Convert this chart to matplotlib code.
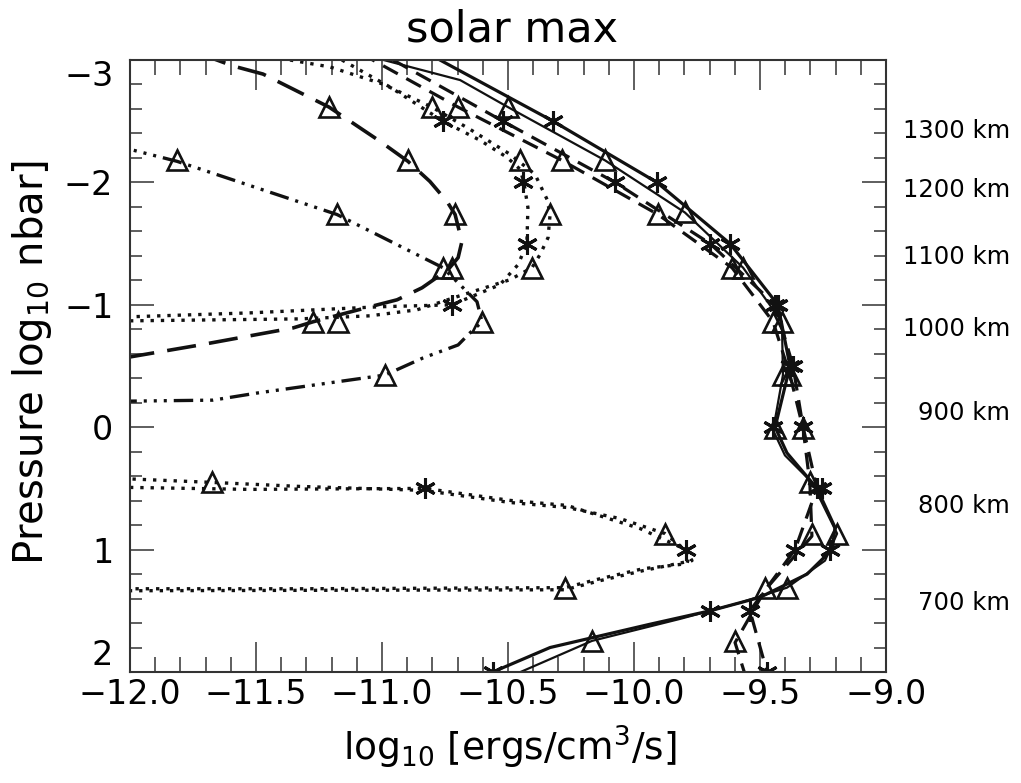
import matplotlib
matplotlib.use("Agg")
import matplotlib.pyplot as plt
from matplotlib.ticker import MultipleLocator
import matplotlib.transforms as mtransforms

plt.rcParams['font.family'] = ['DejaVu Sans']
plt.rcParams['lines.scale_dashes'] = False
plt.rcParams['mathtext.fontset'] = 'dejavusans'

# ---------------- data (log10 rate vs log10 pressure) ----------------
# solid, thick
s1_x = [-10.770, -10.321, -9.909, -9.619, -9.429, -9.381, -9.440, -9.393, -9.274,
        -9.202, -9.214, -9.313, -9.500, -9.698, -9.937, -10.333, -10.560]
s1_y = [-3.0, -2.5, -2.0, -1.5, -1.0, -0.5, 0.0, 0.21, 0.5,
        0.82, 1.0, 1.2, 1.39, 1.5, 1.61, 1.8, 2.0]
# solid, thin
s2_x = [-11.099, -10.690, -10.500, -10.115, -9.798, -9.567, -9.413, -9.409, -9.448,
        -9.401, -9.294, -9.194, -9.242, -9.393, -9.579, -9.817, -10.167, -10.651]
s2_y = [-3.057, -2.836, -2.615, -2.18, -1.754, -1.303, -0.861, -0.426, 0.025,
        0.23, 0.451, 0.869, 1.09, 1.311, 1.434, 1.566, 1.746, 2.18]
# dashed 1
d1_x = [-10.956, -10.520, -10.075, -9.698, -9.440, -9.369, -9.329, -9.274,
        -9.361, -9.540, -9.472]
d1_y = [-3.0, -2.5, -2.0, -1.5, -1.0, -0.5, 0.0, 0.5, 1.0, 1.5, 2.0]
# dashed 2
d2_x = [-11.087, -10.698, -10.286, -9.905, -9.611, -9.448, -9.381, -9.329,
        -9.302, -9.294, -9.480, -9.599, -9.532]
d2_y = [-3.057, -2.615, -2.18, -1.738, -1.303, -0.861, -0.426, 0.01,
        0.46, 0.89, 1.33, 1.76, 2.2]
# dotted 1 (upper)
o1_x = [-11.159, -10.968, -10.758, -10.611, -10.504, -10.452, -10.437, -10.421,
        -10.425, -10.460, -10.532, -10.722, -11.008, -11.524, -12.0, -16.9]
o1_y = [-3.0, -2.779, -2.5, -2.344, -2.205, -2.107, -2.0, -1.795,
        -1.5, -1.328, -1.164, -1.0, -0.984, -0.934, -0.902, -0.5]
# dotted 2 (upper)
o2_x = [-11.365, -11.206, -10.996, -10.802, -10.651, -10.492, -10.393, -10.345,
        -10.333, -10.341, -10.373, -10.405, -10.492, -10.679, -10.861, -11.048,
        -11.325, -12.0, -31.0]
o2_y = [-3.0, -2.943, -2.803, -2.615, -2.434, -2.23, -2.066, -1.861,
        -1.738, -1.549, -1.41, -1.303, -1.205, -1.082, -0.959, -0.91,
        -0.885, -0.869, -0.42]
# long dashes
l_x = [-11.730, -11.591, -11.472, -11.210, -11.008, -10.897, -10.810, -10.742,
       -10.710, -10.683, -10.698, -10.738, -10.841, -10.940, -11.048, -11.274,
       -11.353, -11.722, -12.0, -12.4]
l_y = [-3.057, -2.951, -2.885, -2.615, -2.336, -2.172, -2.008, -1.844,
       -1.738, -1.516, -1.385, -1.287, -1.139, -1.041, -0.984, -0.861,
       -0.811, -0.672, -0.574, -0.42]
# dash-dot-dot-dot
t_x = [-12.65, -12.0, -11.813, -11.179, -10.758, -10.623, -10.603, -10.651,
       -10.698, -10.837, -10.988, -11.496, -11.671, -12.0, -40.0]
t_y = [-2.615, -2.27, -2.172, -1.738, -1.303, -1.025, -0.861, -0.77,
       -0.672, -0.566, -0.426, -0.279, -0.221, -0.213, 0.02]
# dotted (lower) 1
lo1_x = [-16.6, -11.675, -11.325, -10.837, -10.492, -10.266, -10.056, -9.877,
         -9.778, -9.790, -9.964, -10.135, -10.274, -11.325, -12.0, -40.0]
lo1_y = [0.02, 0.451, 0.484, 0.516, 0.615, 0.656, 0.746, 0.869,
         1.033, 1.115, 1.156, 1.238, 1.311, 1.32, 1.32, 1.76]
# dotted (lower) 2
lo2_x = [-12.0, -11.524, -10.829, -10.492, -10.266, -9.976, -9.794, -9.770,
         -9.964, -10.135, -10.274, -12.0]
lo2_y = [0.492, 0.508, 0.5, 0.598, 0.639, 0.828, 1.0, 1.09,
         1.172, 1.254, 1.328, 1.336]

# asterisk markers
ast_x = [-10.758, -10.520, -10.321, -10.440, -10.075, -9.909, -10.425, -9.698, -9.619,
         -10.722, -9.440, -9.429, -9.381, -9.369, -9.448, -9.329, -10.829, -9.274,
         -9.254, -9.794, -9.361, -9.222, -9.698, -9.540, -10.560, -9.472]
ast_y = [-2.5, -2.5, -2.5, -2.0, -2.0, -2.0, -1.5, -1.5, -1.5,
         -1.0, -1.0, -1.0, -0.5, -0.5, 0.0, 0.0, 0.5, 0.5,
         0.5, 1.0, 1.0, 1.0, 1.5, 1.5, 2.0, 2.0]
# triangle markers
tri_x = [-11.210, -10.802, -10.698, -10.500,
         -11.813, -10.897, -10.452, -10.286, -10.115,
         -11.179, -10.710, -10.333, -9.905, -9.798,
         -10.758, -10.722, -10.405, -9.611, -9.567,
         -11.274, -11.175, -10.603, -9.448, -9.413,
         -10.988, -9.409, -9.381,
         -9.440, -9.329,
         -11.675, -9.302,
         -9.877, -9.294, -9.194,
         -10.274, -9.480, -9.393,
         -10.167, -9.599]
tri_y = [-2.615, -2.615, -2.615, -2.615,
         -2.18, -2.18, -2.18, -2.18, -2.18,
         -1.74, -1.74, -1.74, -1.74, -1.76,
         -1.30, -1.30, -1.30, -1.30, -1.30,
         -0.86, -0.86, -0.86, -0.86, -0.86,
         -0.425, -0.425, -0.425,
         0.01, 0.01,
         0.45, 0.45,
         0.87, 0.87, 0.87,
         1.31, 1.31, 1.31,
         1.745, 1.745]

# altitude labels on the right
alt_labels = ['1300 km', '1200 km', '1100 km', '1000 km', '900 km', '800 km', '700 km']
alt_pos = [-2.42, -1.94, -1.39, -0.80, -0.115, 0.64, 1.44]

x_ticks = [-12.0, -11.5, -11.0, -10.5, -10.0, -9.5, -9.0]
y_ticks = [-3, -2, -1, 0, 1, 2]

# ---------------- figure ----------------
fig = plt.figure(figsize=(10.21, 7.83), dpi=100)
ax = fig.add_axes([130/1021, 1-672/783, 756/1021, 612/783])

k = '#111111'
dot = (0, (2.4, 5.0))
dash = (0, (12, 7))
ldash = (0, (21, 9.5))
dd3 = (0, (14, 5, 2.2, 5, 2.2, 5, 2.2, 5))

ax.plot(s1_x, s1_y, color=k, lw=2.3, ls='-')
ax.plot(s2_x, s2_y, color=k, lw=1.6, ls='-')
ax.plot(d1_x, d1_y, color=k, lw=2.3, ls=dash)
ax.plot(d2_x, d2_y, color=k, lw=2.3, ls=dash)
ax.plot(o1_x, o1_y, color=k, lw=2.4, ls=dot, dash_capstyle='butt')
ax.plot(o2_x, o2_y, color=k, lw=2.4, ls=dot, dash_capstyle='butt')
ax.plot(l_x, l_y, color=k, lw=2.6, ls=ldash)
ax.plot(t_x, t_y, color=k, lw=2.4, ls=dd3)
ax.plot(lo1_x, lo1_y, color=k, lw=2.4, ls=dot, dash_capstyle='butt')
ax.plot(lo2_x, lo2_y, color=k, lw=2.4, ls=dot, dash_capstyle='butt')

ax.plot(ast_x, ast_y, ls='none', marker=(6, 2, 0), ms=15, mew=2.2, color=k)
ax.plot(tri_x, tri_y, ls='none', marker='^', ms=14, mew=1.9, mfc='none', mec=k)

ax.set_xlim(-12.0, -9.0)
ax.set_ylim(2.0, -3.0)
ax.set_xticks(x_ticks)
ax.set_xticklabels([('%.1f' % v).replace('-', '\u2212') for v in x_ticks])
ax.set_yticks(y_ticks)
ylabs = ax.set_yticklabels([str(v).replace('-', '\u2212') for v in y_ticks])
ylabs[0].set_va('top')
ylabs[-1].set_va('bottom')
ax.xaxis.set_minor_locator(MultipleLocator(0.1))
ax.yaxis.set_minor_locator(MultipleLocator(0.2))
ax.tick_params(axis='x', which='major', direction='in', length=21.5, width=1.1,
               top=True, bottom=True, labelsize=24, pad=4, color='#333333')
ax.tick_params(axis='x', which='minor', direction='in', length=10.8, width=1.1,
               top=True, bottom=True, color='#333333')
ax.tick_params(axis='y', which='major', direction='in', length=17, width=1.1,
               left=True, right=True, labelsize=24, pad=12, color='#333333')
ax.tick_params(axis='y', which='minor', direction='in', length=8.6, width=1.1,
               left=True, right=True, color='#333333')
for sp in ax.spines.values():
    sp.set_linewidth(1.5)
    sp.set_color('#333333')

fig.text(512/1021, 1-30/783, 'solar max', fontsize=31, ha='center', va='center')
fig.text(510/1021, 1-747/783, r'log$_{10}$ [ergs/cm$^{3}$/s]', fontsize=27,
         ha='center', va='center')
fig.text(32/1021, 1-362/783, r'Pressure log$_{10}$ nbar]', fontsize=29,
         ha='center', va='center', rotation=90)

trans = mtransforms.blended_transform_factory(fig.transFigure, ax.transData)
for lab, p in zip(alt_labels, alt_pos):
    ax.text(1010/1021, p, lab, transform=trans, fontsize=17.5, ha='right', va='center',
            clip_on=False)

fig.savefig('out.png', dpi=100)
